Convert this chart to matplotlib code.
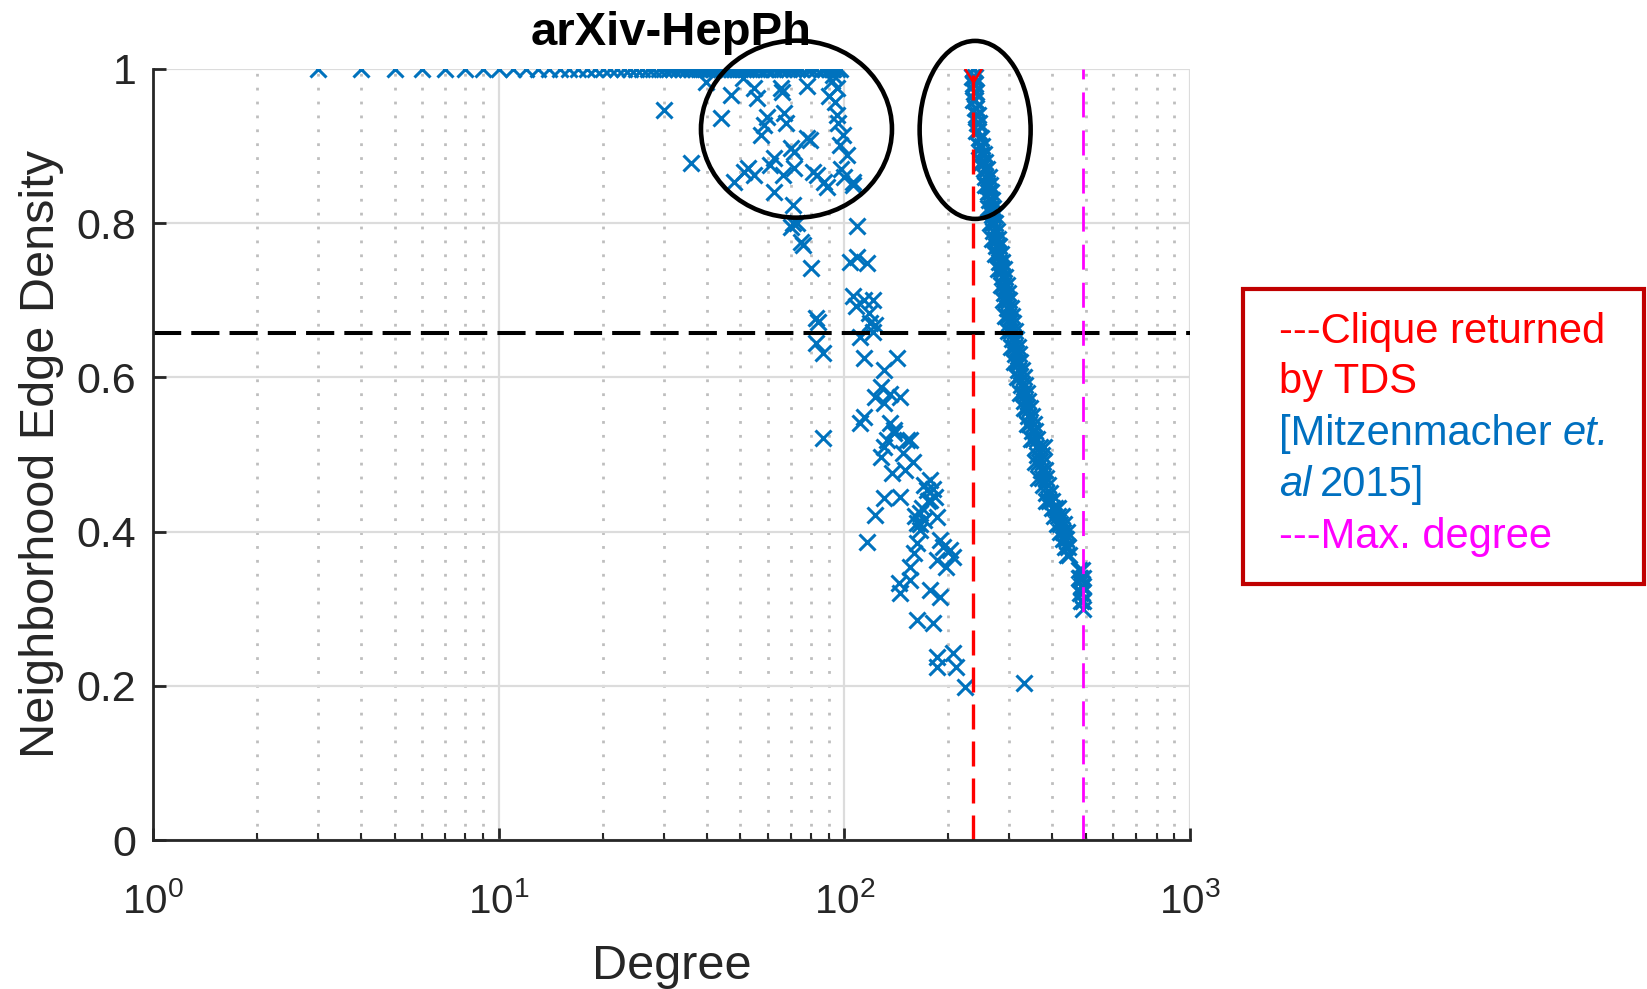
import matplotlib
matplotlib.use('Agg')
import matplotlib.pyplot as plt
from matplotlib.patches import Ellipse, Rectangle
from matplotlib.transforms import IdentityTransform
from matplotlib.ticker import LogLocator, NullFormatter

plt.rcParams['font.family'] = ['Liberation Sans', 'DejaVu Sans']
plt.rcParams['mathtext.fontset'] = 'custom'
plt.rcParams['mathtext.rm'] = 'Liberation Sans'
plt.rcParams['mathtext.it'] = 'Liberation Sans:italic'

# --- data ---
# nodes whose neighbourhood is a clique (density 1)
top_deg = [3, 4, 5, 6, 7, 8, 9, 10, 11, 12, 13, 14, 15, 16, 17, 18, 19, 20,
           21, 22, 23, 24, 25, 26, 27, 28, 29, 30, 31, 32, 33, 34, 35, 36, 37,
           38, 39, 40, 41, 42, 43, 44, 45, 46, 47, 48, 49, 50, 51, 52, 53, 54,
           56, 57, 59, 60, 62, 63, 65, 67, 69, 71, 73, 75, 78, 80, 83, 86, 88,
           90, 92, 93, 95, 97]
top_den = [1.0] * len(top_deg)

# points inside the left circle (near-cliques)
circ_deg = [30, 35.9, 39.7, 51, 46.9, 43.9, 54.7, 56, 65.4, 66, 78, 59.8, 66.7,
            57.3, 58.5, 68, 79.8, 78, 71.4, 70, 62.4, 51.2, 52.5, 54.7, 61, 71.4,
            66.5, 83.6, 81, 47.9, 62.4, 89.3, 87.5, 106, 106, 102, 92, 93, 90, 95,
            94, 95, 96, 99, 97, 98, 100]
circ_den = [0.947, 0.878, 0.983, 0.988, 0.966, 0.936, 0.975, 0.962, 0.975, 0.970,
            0.978, 0.938, 0.943, 0.914, 0.927, 0.930, 0.908, 0.911, 0.892, 0.898,
            0.885, 0.866, 0.872, 0.862, 0.875, 0.871, 0.862, 0.862, 0.866, 0.853,
            0.840, 0.847, 0.853, 0.850, 0.853, 0.888, 0.985, 0.992, 0.965, 0.975,
            0.957, 0.940, 0.930, 0.914, 0.901, 0.870, 0.860]

# left branch (degree 70 - 225)
left_deg = [71, 70, 73, 71, 75, 76, 80, 84, 83, 83, 87, 87,
            109, 109, 104, 116, 106, 114, 108, 121, 118, 119, 123, 111, 121,
            114, 142, 130, 128, 136, 123, 145, 130, 114, 139, 152, 133,
            111, 136, 139, 155, 130, 148, 128, 137, 177, 130, 145, 173, 177,
            123, 165, 186, 162, 165, 116, 162, 189, 202, 193, 159, 186, 206,
            155, 197, 144, 155, 177, 145, 189, 162, 181, 186, 206, 186, 211, 223,
            160, 165, 170, 168, 175, 180, 183, 170, 158, 150]
left_den = [0.824, 0.795, 0.800, 0.800, 0.776, 0.772, 0.742, 0.672, 0.677, 0.645, 0.632, 0.521,
            0.797, 0.756, 0.750, 0.748, 0.705, 0.700, 0.692, 0.700, 0.683, 0.671, 0.668, 0.653, 0.659,
            0.625, 0.625, 0.610, 0.588, 0.579, 0.575, 0.575, 0.567, 0.549, 0.532, 0.519, 0.519,
            0.541, 0.541, 0.528, 0.519, 0.510, 0.502, 0.497, 0.476, 0.467, 0.444, 0.445, 0.454, 0.441,
            0.422, 0.424, 0.419, 0.411, 0.402, 0.387, 0.385, 0.389, 0.376, 0.380, 0.372, 0.363, 0.367,
            0.354, 0.354, 0.333, 0.337, 0.324, 0.320, 0.315, 0.285, 0.281, 0.237, 0.242, 0.224, 0.224, 0.199,
            0.420, 0.410, 0.415, 0.430, 0.440, 0.455, 0.445, 0.460, 0.490, 0.480]

# right branch (degree 235 - 491)
right_deg = [236, 237, 235, 238, 234, 236, 239, 237, 240, 239, 236, 241, 238,
             240, 243, 242, 245, 244, 241, 246, 249, 245, 251, 248, 253,
             251, 256, 248, 254, 258, 256, 262, 259, 264, 255, 261, 266,
             263, 268, 265, 270, 261, 267, 272, 268, 273, 264, 270, 276,
             272, 279, 268, 275, 281, 278, 283, 273, 280, 286, 283, 289, 278,
             285, 292, 288, 295, 283, 290, 297, 293, 300, 288, 295, 303,
             298, 305, 292, 300, 308, 303, 311, 297, 306, 314, 309, 317, 303,
             312, 320, 315, 323, 309, 318, 327, 321, 330, 315, 325, 334,
             328, 337, 322, 332, 341, 336, 345, 330, 340, 349, 343, 353, 338,
             348, 357, 352, 362, 347, 358, 368, 377, 362, 372, 366, 376, 356,
             370, 380, 373, 384, 364, 376, 388, 383, 393, 390, 400, 382,
             398, 408, 416, 404, 415, 425, 412, 422, 432, 420, 430, 440,
             428, 438, 434, 444, 440, 448, 478, 486, 482, 489, 476, 484, 490,
             487, 480, 489, 485, 490, 331]
right_den = [1.00, 1.00, 1.00, 0.99, 0.99, 0.98, 0.98, 0.97, 0.97, 0.96, 0.96, 0.95, 0.95,
             0.94, 0.94, 0.93, 0.93, 0.92, 0.92, 0.91, 0.91, 0.90, 0.90, 0.89, 0.89,
             0.88, 0.88, 0.88, 0.87, 0.87, 0.86, 0.86, 0.85, 0.85, 0.85, 0.84, 0.84,
             0.83, 0.83, 0.82, 0.82, 0.82, 0.81, 0.81, 0.80, 0.80, 0.80, 0.79, 0.79,
             0.78, 0.78, 0.78, 0.77, 0.77, 0.76, 0.76, 0.76, 0.75, 0.75, 0.74, 0.74, 0.74,
             0.73, 0.73, 0.72, 0.72, 0.72, 0.71, 0.71, 0.70, 0.70, 0.70, 0.69, 0.69,
             0.68, 0.68, 0.68, 0.67, 0.67, 0.66, 0.66, 0.66, 0.65, 0.65, 0.64, 0.64, 0.64,
             0.63, 0.63, 0.62, 0.62, 0.62, 0.61, 0.61, 0.60, 0.60, 0.60, 0.59, 0.59,
             0.58, 0.58, 0.58, 0.57, 0.57, 0.56, 0.56, 0.56, 0.55, 0.55, 0.54, 0.54, 0.54,
             0.53, 0.53, 0.52, 0.52, 0.52, 0.51, 0.51, 0.51, 0.50, 0.50, 0.49, 0.49, 0.49,
             0.48, 0.48, 0.47, 0.47, 0.47, 0.46, 0.46, 0.45, 0.45, 0.44, 0.44, 0.44,
             0.43, 0.43, 0.43, 0.42, 0.42, 0.42, 0.41, 0.41, 0.41, 0.40, 0.40, 0.40,
             0.39, 0.39, 0.38, 0.38, 0.37, 0.37, 0.35, 0.35, 0.34, 0.34, 0.34, 0.33, 0.33,
             0.32, 0.32, 0.31, 0.31, 0.30, 0.204]

clique_deg = 236      # TDS clique
max_deg = 491         # max degree
threshold = 0.657     # horizontal dashed line

xticks = [1, 10, 100, 1000]
xticklabels = ['$10^{0}$', '$10^{1}$', '$10^{2}$', '$10^{3}$']
yticks = [0, 0.2, 0.4, 0.6, 0.8, 1.0]
yticklabels = ['0', '0.2', '0.4', '0.6', '0.8', '1']

# --- figure ---
W, H = 1647, 989
fig = plt.figure(figsize=(W / 100, H / 100), dpi=100)
ax = fig.add_axes([153 / W, 1 - 840 / H, 1037 / W, 771 / H])

all_deg = top_deg + circ_deg + left_deg + right_deg
all_den = top_den + circ_den + left_den + right_den
ax.plot(all_deg, all_den, ls='none', marker='x', color='#0072BD', ms=11, mew=2.2)

ax.set_xscale('log')
ax.set_xlim(1, 1000)
ax.set_ylim(0, 1)

ax.axhline(threshold, color='k', lw=2.9, ls=(0, (7, 2.5)))
ax.axvline(clique_deg, color='red', lw=2.4, ls=(0, (7.5, 3.6)))
ax.axvline(max_deg, color='#FF00FF', lw=2.0, ls=(0, (9, 4.7)))
ax.plot([clique_deg], [1.0], marker='d', ms=13, mfc='none', mec='red', mew=1.8)

ax.set_axisbelow(True)
ax.grid(which='major', color='#DCDCDC', lw=1.6, ls='-')
ax.xaxis.set_minor_locator(LogLocator(base=10, subs=range(2, 10)))
ax.xaxis.set_minor_formatter(NullFormatter())
ax.grid(which='minor', axis='x', color='#BEBEBE', lw=2.0, ls=(0, (1, 4)))

ax.set_xticks(xticks)
ax.set_xticklabels(xticklabels)
ax.set_yticks(yticks)
ax.set_yticklabels(yticklabels)
ax.tick_params(axis='both', which='major', direction='in', length=9, width=2,
               colors='#262626')
ax.tick_params(axis='x', which='major', labelsize=29, pad=30)
ax.tick_params(axis='y', which='major', labelsize=31, pad=12)
ax.tick_params(axis='x', which='minor', direction='in', length=5, width=1.5,
               color='#262626')
for s in ['top', 'right']:
    ax.spines[s].set_visible(False)
for s in ['left', 'bottom']:
    ax.spines[s].set_linewidth(2)
    ax.spines[s].set_color('#262626')

ax.set_title('arXiv-HepPh', fontsize=34, fontweight='bold', pad=17)
ax.set_xlabel('Degree', fontsize=35, color='#262626')
ax.set_ylabel('Neighborhood Edge Density', fontsize=35, color='#262626')
ax.xaxis.set_label_coords(0.5, -0.135)
ax.yaxis.set_label_coords(-0.086, 0.5)

# circles around the near-cliques
def draw_ellipse(deg, den, w, h):
    cx, cy = ax.transData.transform((deg, den))
    e = Ellipse((cx, cy), w, h, fill=False, ec='black', lw=3.3,
                transform=IdentityTransform(), clip_on=False)
    fig.add_artist(e)

draw_ellipse(72.7, 0.922, 191, 177)
draw_ellipse(239, 0.921, 111, 178)

# text box on the right
fig.add_artist(Rectangle((1243 / W, 1 - 584 / H), 401 / W, 295 / H,
                         transform=fig.transFigure, fill=False,
                         ec='#C00000', lw=3))
tx = 1279 / W
fs = 30
fig.text(tx, 1 - 332 / H, '---Clique returned', color='#FF0000', fontsize=fs, va='center')
fig.text(tx, 1 - 382 / H, 'by TDS', color='#FF0000', fontsize=fs, va='center')
t3 = fig.text(tx, 1 - 434 / H, '[Mitzenmacher', color='#0070C0', fontsize=fs, va='center')
ax.annotate('et.', xy=(1, 0), xycoords=t3, xytext=(8, 0), textcoords='offset points',
            va='bottom', ha='left', color='#0070C0', fontsize=fs, style='italic',
            annotation_clip=False)
t4 = fig.text(tx, 1 - 485 / H, 'al', color='#0070C0', fontsize=fs, va='center', style='italic')
ax.annotate('2015]', xy=(1, 0), xycoords=t4, xytext=(6, 0), textcoords='offset points',
            va='bottom', ha='left', color='#0070C0', fontsize=fs,
            annotation_clip=False)
fig.text(tx, 1 - 537 / H, '---Max. degree', color='#FF00FF', fontsize=fs, va='center')

fig.savefig('out.png', dpi=100)
